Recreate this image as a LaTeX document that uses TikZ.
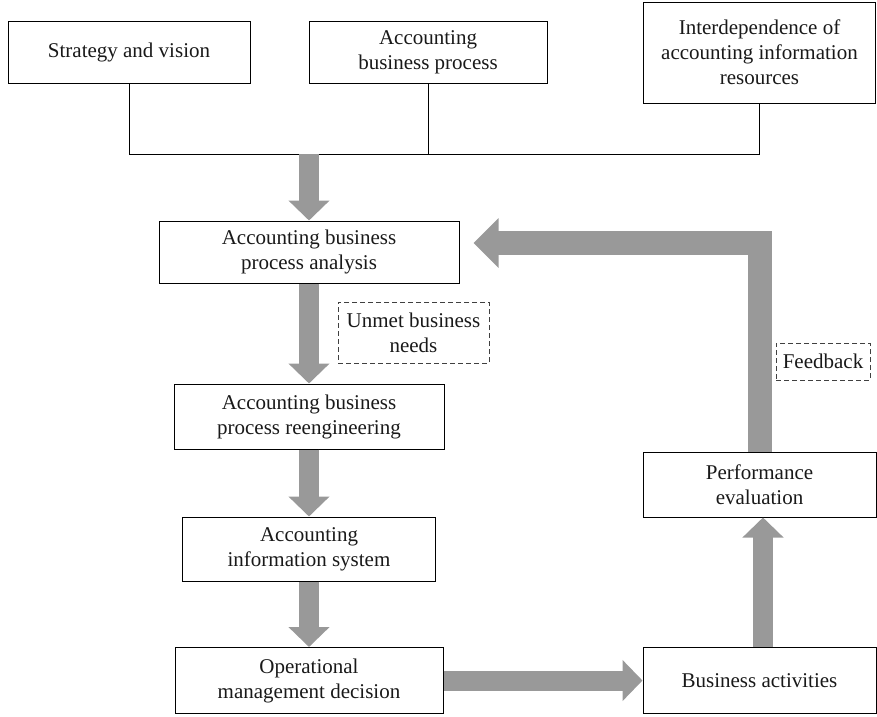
\documentclass[tikz,border=0pt]{standalone}
\usepackage{fontspec}
\setmainfont{Liberation Serif}
\usetikzlibrary{arrows.meta}
\begin{document}
\begin{tikzpicture}[x=1pt,y=-1pt,
  box/.style={draw=black, line width=1pt, align=center, inner sep=0pt,
    font=\fontsize{21}{25}\selectfont, text=black!90},
  dbox/.style={box, draw=black!75, dash pattern=on 5pt off 3pt},
  conn/.style={draw=black, line width=1pt},
  garrow/.style={draw=black!40, line width=20pt, -{Triangle[width=40pt,length=20pt]}},
  farrow/.style={draw=black!40, line width=24pt, line join=miter, -{Triangle[width=48pt,length=25pt]}}
]
\useasboundingbox (0,0) rectangle (877,716);

% top boxes
\node[box, minimum width=242pt, minimum height=62pt] (sv) at (129,52) {Strategy and vision};
\node[box, minimum width=238pt, minimum height=62pt] (abp) at (428,52) {Accounting\\business process};
\node[box, minimum width=232pt, minimum height=101pt] (inter) at (759.5,52.5) {Interdependence of\\accounting information\\resources};

% left column
\node[box, minimum width=300pt, minimum height=62pt] (ana) at (309,252) {Accounting business\\process analysis};
\node[dbox, minimum width=151pt, minimum height=61pt] (unmet) at (413.5,332.5) {Unmet business\\needs};
\node[box, minimum width=270pt, minimum height=65pt] (reeng) at (309,416.5) {Accounting business\\process reengineering};
\node[box, minimum width=253pt, minimum height=64pt] (ais) at (309,549) {Accounting\\information system};
\node[box, minimum width=268pt, minimum height=66pt] (op) at (309,680.5) {Operational\\management decision};

% right column
\node[box, minimum width=233pt, minimum height=66pt] (ba) at (759.5,680.5) {Business activities};
\node[box, minimum width=233pt, minimum height=65pt] (perf) at (759.5,484.5) {Performance\\evaluation};
\node[dbox, minimum width=94pt, minimum height=37pt] (fb) at (823,361.5) {Feedback};

% connectors at top
\coordinate (hb) at (0,154);
\draw[conn] (sv.south) |- (hb -| inter.south) -- (inter.south);
\draw[conn] (abp.south) -- (abp.south |- hb);

% gray arrows
\draw[garrow] (hb -| ana.north) -- (ana.north);
\draw[garrow] (ana.south) -- (ana.south |- reeng.north);
\draw[garrow] (reeng.south) -- (reeng.south |- ais.north);
\draw[garrow] (ais.south) -- (ais.south |- op.north);
\draw[garrow] (op.east) -- (ba.west);
\draw[garrow] ([xshift=3.5pt]ba.north) -- ([xshift=3.5pt]perf.south);
\draw[farrow, shorten >=14pt] (perf.north) |- ([yshift=9pt]ana.east);
\end{tikzpicture}
\end{document}
